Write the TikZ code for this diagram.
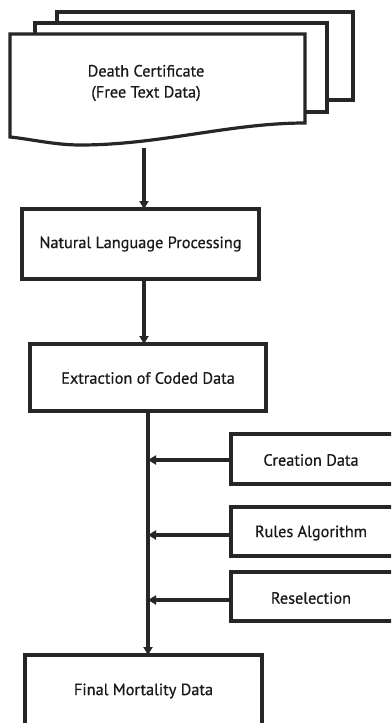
\documentclass[tikz,border=0pt]{standalone}
\usepackage{fontspec}
\setmainfont{PT Sans}
\newfontfamily\lblfont[FakeBold=0.6]{PT Sans}
\usetikzlibrary{arrows.meta}
\begin{document}
\begin{tikzpicture}[x=1pt,y=-1pt,
  line width=3pt,
  box/.style={draw=black!85, line width=3.2pt, fill=white},
  lbl/.style={font=\lblfont\fontsize{16.3}{19}\selectfont, text=black!90, inner sep=0pt},
  flow/.style={draw=black!85, line width=3.2pt, -{Triangle[length=8pt,width=9pt]}}]
  \clip (0,0) rectangle (391,723);
  \fill[white] (0,0) rectangle (391,723);

  % stacked pages of the certificate
  \draw[box] (57,12) rectangle (353,100);
  \draw[box] (35,23) rectangle (327,112);
  \draw[box] (10,34) -- (305,34) -- (305,123)
     .. controls (230,123) and (160,145) .. (80,145)
     .. controls (55,145) and (30,139) .. (10,137) -- cycle;
  \node[lbl, align=center] (cert) at (146,83) {Death Certificate\\[2pt](Free Text Data)};
  \coordinate (certbot) at (144,148);

  % main boxes
  \draw[box] (22,209) rectangle (259,279);
  \node[lbl] (nlp) at (140.5,244) {Natural Language Processing};
  \coordinate (nlpN) at (144,209);
  \coordinate (nlpS) at (144,279);

  \draw[box] (30,344) rectangle (266,411);
  \node[lbl] (ext) at (148,378) {Extraction of Coded Data};
  \coordinate (extN) at (144,344);
  \coordinate (extS) at (148,411);

  \draw[box] (25,655) rectangle (262,740);
  \node[lbl] (fin) at (143.5,691) {Final Mortality Data};
  \coordinate (finN) at (148,655);

  % side inputs
  \draw[box] (231,434) rectangle (400,484);
  \node[lbl] (cre) at (311,460) {Creation Data};
  \draw[box] (231,507) rectangle (400,556);
  \node[lbl] (rul) at (311,533) {Rules Algorithm};
  \draw[box] (231,572) rectangle (400,621);
  \node[lbl] (res) at (311,598) {Reselection};

  \coordinate (creW) at (231,460);
  \coordinate (rulW) at (231,535);
  \coordinate (resW) at (231,600);
  \coordinate (j1) at (148,460);
  \coordinate (j2) at (148,535);
  \coordinate (j3) at (148,600);

  % connectors
  \draw[flow] (certbot) -- (nlpN);
  \draw[flow] (nlpS) -- (extN);
  \draw[flow] (extS) -- (finN);
  \draw[flow] (creW) -- (j1);
  \draw[flow] (rulW) -- (j2);
  \draw[flow] (resW) -- (j3);
\end{tikzpicture}
\end{document}
